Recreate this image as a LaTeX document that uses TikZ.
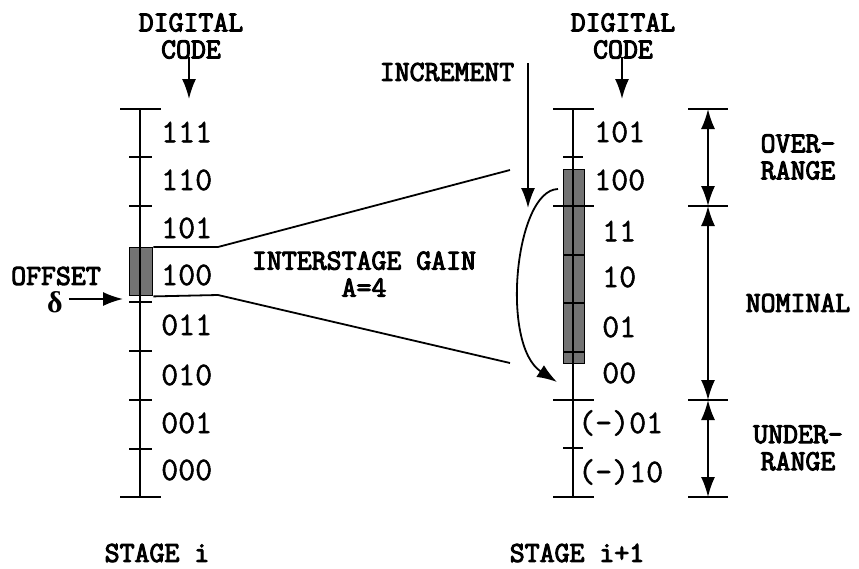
\documentclass[tikz,border=0pt]{standalone}
\usepackage{fontspec}
\newfontfamily\greekserif{Liberation Serif}
\newfontfamily\codefont[FakeBold=1.5]{Latin Modern Mono}
\newfontfamily\labelfont[FakeBold=3.5]{Latin Modern Mono}
\usetikzlibrary{arrows.meta}

\begin{document}
\begin{tikzpicture}[x=1pt,y=-1pt,
  code/.style={font=\fontsize{33}{33}\selectfont\codefont, anchor=west, inner sep=0pt},
  lbl/.style={font=\fontsize{29}{27}\selectfont\labelfont, align=center, inner sep=0pt},
  axisline/.style={line width=1.8pt},
  tickline/.style={line width=2.2pt},
  tip/.tip={Latex[length=20pt,width=14pt]},
  arr/.style={line width=1.8pt, -tip},
  dimarr/.style={line width=1.8pt, tip-tip},
  shadebox/.style={fill=black!55, draw=black, line width=1.4pt, inner sep=0pt, anchor=north west},
  gainline/.style={line width=1.8pt},
  curvearr/.style={line width=1.8pt, -tip}
]
\useasboundingbox (0,0) rectangle (859,568);

% ---------------- stage i ----------------
\node[shadebox, minimum width=23pt, minimum height=48pt] (boxL) at (129,247) {};
\coordinate (La) at (140,109);
\coordinate (Lb) at (140,497);
\draw[axisline] (La) -- (Lb);
\draw[tickline] ([xshift=-20pt]La) -- ([xshift=21pt]La);
\draw[tickline] ([xshift=-20pt]Lb) -- ([xshift=21pt]Lb);
\foreach \y in {157,206,302,351,400,449}
  \draw[tickline] (129,\y) -- (152,\y);

\node[code] (c111) at (161,132) {111};
\node[code] (c110) at (161,180) {110};
\node[code] (c101) at (161,228) {101};
\node[code] (c100) at (161,275) {100};
\node[code] (c011) at (161,325) {011};
\node[code] (c010) at (161,375) {010};
\node[code] (c001) at (161,423) {001};
\node[code] (c000) at (161,470) {000};

\node[lbl] (dcL) at (191,36) {DIGITAL\\CODE};
\coordinate (dcLtip) at (189,99);
\draw[arr] (dcL.south -| dcLtip) ++(0,2pt) -- (dcLtip);

\node[lbl] (offset) at (56,276) {OFFSET};
\node[inner sep=0pt, font=\fontsize{30}{30}\selectfont\greekserif\bfseries] (delta) at (55,302) {δ};
\coordinate (offtip) at (123,299);
\draw[arr] (delta.east |- offtip) ++(6pt,0) -- (offtip);

\node[lbl] (stagei) at (157,553) {STAGE i};

% ---------------- interstage gain ----------------
\coordinate (gu1) at (218,247);
\coordinate (gu2) at (510,170);
\coordinate (gl1) at (218,295);
\coordinate (gl2) at (510,363);
\draw[gainline] (boxL.north east) -- (gu1) -- (gu2);
\draw[gainline] (boxL.south east) -- (gl1) -- (gl2);
\node[lbl, font=\fontsize{29}{27}\selectfont\labelfont] (gain) at (364,274) {INTERSTAGE GAIN\\A=4};

% ---------------- stage i+1 ----------------
\node[shadebox, minimum width=21pt, minimum height=194pt] (boxR) at (563,169) {};
\foreach \y in {255,303,352}
  \draw[line width=1.2pt] (563,\y) -- (584,\y);
\coordinate (Ra) at (573,109);
\coordinate (Rb) at (573,497);
\draw[axisline] (Ra) -- (Rb);
\foreach \y in {109,206,400,497}
  \draw[tickline] (553,\y) -- (594,\y);
\foreach \y in {157,448}
  \draw[tickline] (563,\y) -- (583,\y);

\node[code] (r101) at (594,132) {101};
\node[code] (r100) at (594,180) {100};
\node[code] (r11) at (602,231) {11};
\node[code] (r10) at (602,277) {10};
\node[code] (r01) at (602,327) {01};
\node[code] (r00) at (602,373) {00};
\node[code] (rm01) at (578,423) {(-)01};
\node[code] (rm10) at (578,472) {(-)10};

\node[lbl] (dcR) at (623,36) {DIGITAL\\CODE};
\coordinate (dcRtip) at (622,99);
\draw[arr] (dcR.south -| dcRtip) ++(0,2pt) -- (dcRtip);

\node[lbl, anchor=center] (incr) at (447,72) {INCREMENT};
\coordinate (inctop) at (528,63);
\coordinate (inctip) at (528,208);
\draw[arr] (inctop) -- (inctip);

\coordinate (cstart) at (558,189);
\coordinate (cend) at (557,382);
\draw[curvearr] (cstart) .. controls (515,190) and (500,345) .. (cend);

\node[lbl] (stagei1) at (577,553) {STAGE i+1};

% ---------------- range dimensions ----------------
\coordinate (d0) at (708,109);
\coordinate (d1) at (708,206);
\coordinate (d2) at (708,400);
\coordinate (d3) at (708,497);
\foreach \c in {d0,d1,d2,d3}
  \draw[tickline] ([xshift=-20pt]\c) -- ([xshift=20pt]\c);
\draw[dimarr] (d0) -- (d1);
\draw[dimarr] (d1) -- (d2);
\draw[dimarr] (d2) -- (d3);

\node[lbl] (over) at (798,157) {OVER-\\RANGE};
\node[lbl] (nominal) at (798,303) {NOMINAL};
\node[lbl] (under) at (798,448) {UNDER-\\RANGE};
\end{tikzpicture}
\end{document}
